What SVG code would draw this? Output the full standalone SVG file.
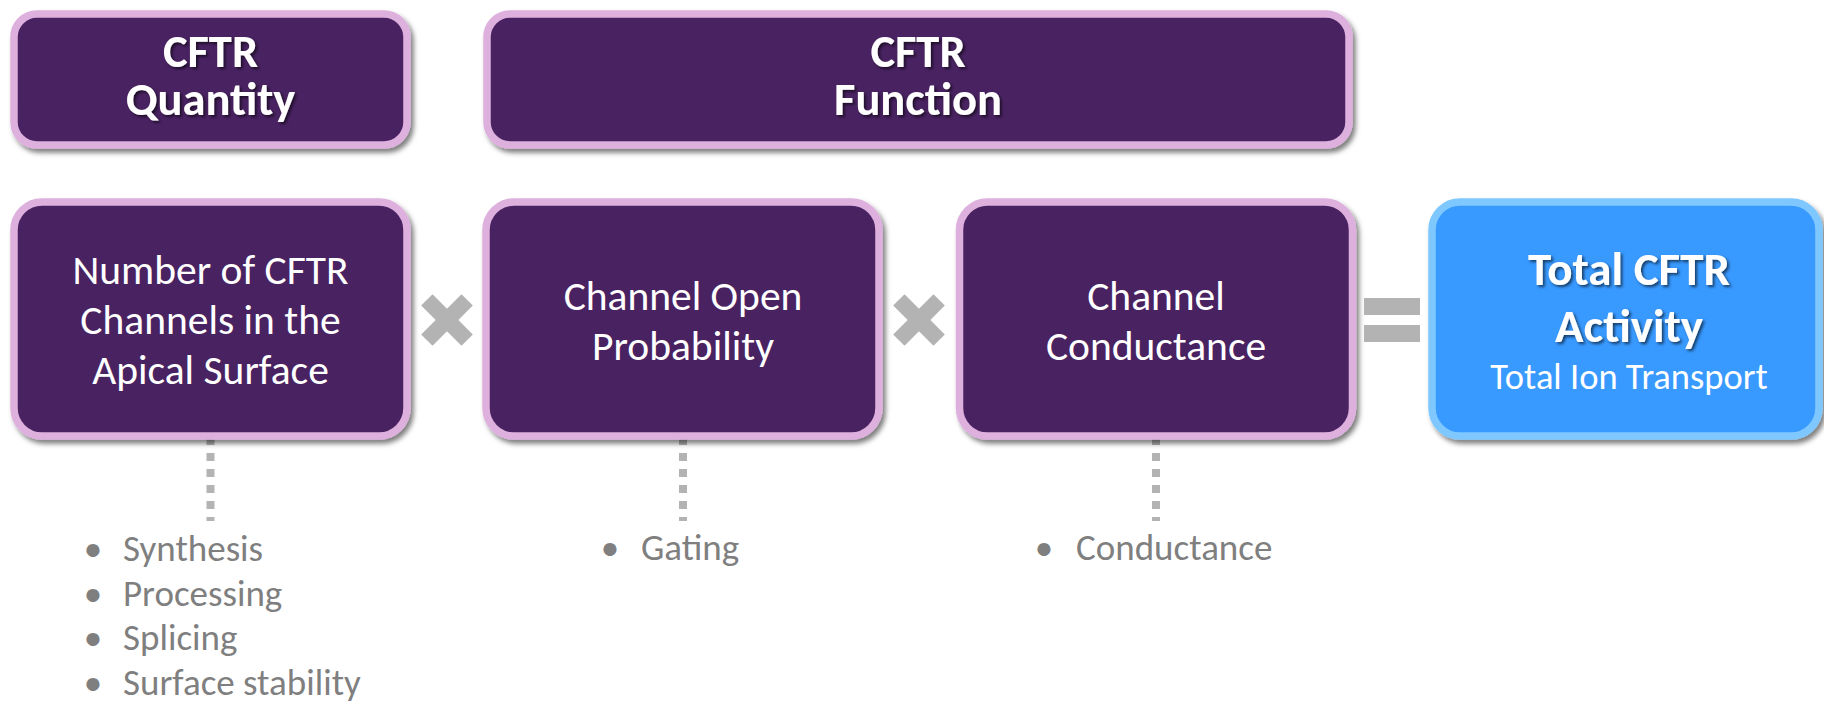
<svg xmlns="http://www.w3.org/2000/svg" width="1824" height="701" viewBox="0 0 1824 701">
<style>
.t{font-family:Carlito,Lato,"Liberation Sans",sans-serif;}
.box{fill:#4A2362;stroke:#DDB0DD;stroke-width:7.5;filter:url(#sh);}
.blue{fill:#3899FF;stroke:#7FC8FF;stroke-width:7.5;filter:url(#sh);}
.wt{fill:#FFFFFF;font-size:41.5px;text-anchor:middle;}
.bt{fill:#FFFFFF;font-size:46.5px;font-weight:bold;text-anchor:middle;filter:url(#tsh);}
.li{fill:#7F7F7F;font-size:37px;}
.dot{stroke:#B3B3B3;stroke-width:8;stroke-dasharray:8 8;fill:none;}
.op{fill:#B3B3B3;}
</style>
<defs>
<filter id="sh" x="-10%" y="-10%" width="120%" height="130%">
<feDropShadow dx="3" dy="4" stdDeviation="2.5" flood-color="#000" flood-opacity="0.5"/>
</filter>
<filter id="tsh" x="-10%" y="-20%" width="120%" height="150%">
<feDropShadow dx="2" dy="2" stdDeviation="1.5" flood-color="#000" flood-opacity="0.6"/>
</filter>
<g id="times">
<rect x="-28.5" y="-8" width="57" height="16" transform="rotate(45)"/>
<rect x="-28.5" y="-8" width="57" height="16" transform="rotate(-45)"/>
</g>
</defs>
<rect width="1824" height="701" fill="#FFFFFF"/>
<g id="connectors">
<line class="dot" x1="210.5" y1="437" x2="210.5" y2="521"/>
<line class="dot" x1="683" y1="437" x2="683" y2="521"/>
<line class="dot" x1="1156" y1="437" x2="1156" y2="521"/>
</g>
<g id="quantity">
<rect class="box" x="14" y="14" width="393" height="131" rx="23"/>
<text class="t bt" x="210.5" y="67">CFTR</text>
<text class="t bt" x="210.5" y="115">Quantity</text>
</g>
<g id="function">
<rect class="box" x="487" y="14" width="862" height="131" rx="23"/>
<text class="t bt" x="918" y="67">CFTR</text>
<text class="t bt" x="918" y="115">Function</text>
</g>
<g id="number">
<rect class="box" x="14" y="202" width="393" height="234" rx="28"/>
<text class="t wt" x="210.5" y="284">Number of CFTR</text>
<text class="t wt" x="210.5" y="334">Channels in the</text>
<text class="t wt" x="210.5" y="384">Apical Surface</text>
</g>
<g id="open">
<rect class="box" x="486" y="202" width="393" height="234" rx="28"/>
<text class="t wt" x="683" y="310">Channel Open</text>
<text class="t wt" x="683" y="360">Probability</text>
</g>
<g id="conductance">
<rect class="box" x="959.5" y="202" width="393" height="234" rx="28"/>
<text class="t wt" x="1156" y="310">Channel</text>
<text class="t wt" x="1156" y="360">Conductance</text>
</g>
<g id="total">
<rect class="blue" x="1432" y="202" width="387" height="234" rx="28"/>
<text class="t bt" x="1629" y="285" style="font-size:47px">Total CFTR</text>
<text class="t bt" x="1629" y="342" style="font-size:47px">Activity</text>
<text class="t wt" x="1629" y="389" style="font-size:36.5px">Total Ion Transport</text>
</g>
<g id="operators">
<use href="#times" class="op" transform="translate(447,320)"/>
<use href="#times" class="op" transform="translate(919,320)"/>
<rect class="op" x="1364" y="298" width="56" height="17"/>
<rect class="op" x="1364" y="325" width="56" height="17"/>
</g>
<g id="list-quantity">
<text class="t li" x="93" y="561" text-anchor="middle">•</text>
<text class="t li" x="123" y="561">Synthesis</text>
<text class="t li" x="93" y="606" text-anchor="middle">•</text>
<text class="t li" x="123" y="606">Processing</text>
<text class="t li" x="93" y="650" text-anchor="middle">•</text>
<text class="t li" x="123" y="650">Splicing</text>
<text class="t li" x="93" y="695" text-anchor="middle">•</text>
<text class="t li" x="123" y="695">Surface stability</text>
</g>
<g id="list-open">
<text class="t li" x="610" y="560" text-anchor="middle">•</text>
<text class="t li" x="641" y="560">Gating</text>
</g>
<g id="list-conductance">
<text class="t li" x="1044" y="560" text-anchor="middle">•</text>
<text class="t li" x="1076" y="560">Conductance</text>
</g>
</svg>
